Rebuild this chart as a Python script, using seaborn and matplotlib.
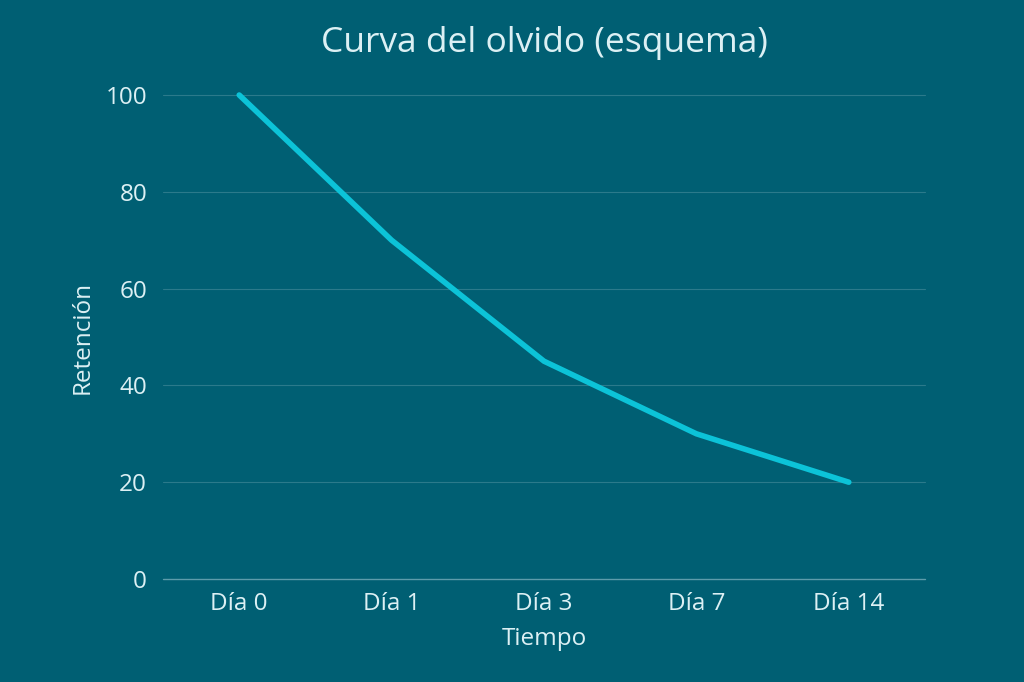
import matplotlib
matplotlib.use("Agg")
import matplotlib.pyplot as plt
import seaborn as sns
import pandas as pd

dias = ["Día 0", "Día 1", "Día 3", "Día 7", "Día 14"]
retencion = [100, 70, 45, 30, 20]
yticks = [0, 20, 40, 60, 80, 100]

BG = "#005f73"
LINE = "#0cc3d8"
TXT = "#dcf0f4"
GRID = "#2b7a8b"
ZERO = "#5d9cab"

sns.set_theme(style="white")
plt.rcParams["font.family"] = ["Open Sans", "DejaVu Sans"]

df = pd.DataFrame({"Tiempo": dias, "Retención": retencion})

fig = plt.figure(figsize=(10.24, 6.82), dpi=100, facecolor=BG)
ax = fig.add_axes([163/1024, 103/682, 762/1024, 484/682])
ax.set_facecolor(BG)

sns.lineplot(data=df, x="Tiempo", y="Retención", sort=False, ax=ax,
             color=LINE, linewidth=4.0, solid_capstyle="round", zorder=3)
for l in ax.lines:
    l.set_clip_on(False)

ax.set_xlim(-0.5, len(dias) - 0.5)
ax.set_ylim(0, 100)
ax.set_yticks(yticks)
ax.set_yticklabels([str(v) for v in yticks])
for v in yticks:
    l = ax.axhline(v, color=ZERO if v == 0 else GRID, linewidth=1.0 if v == 0 else 0.8, zorder=1)
    l.set_clip_on(False)

for s in ax.spines.values():
    s.set_visible(False)
ax.tick_params(axis="both", length=0, colors=TXT, labelsize=17.5)
ax.tick_params(axis="y", pad=11.5)
ax.tick_params(axis="x", pad=9.5)

ax.set_xlabel("Tiempo", color=TXT, fontsize=17.5, labelpad=8)
ax.set_ylabel("Retención", color=TXT, fontsize=17.5, labelpad=8)
fig.text(544/1024, 1 - 43/682, "Curva del olvido (esquema)", color=TXT,
         fontsize=25.5, ha="center", va="center")

fig.savefig("out.png", dpi=100, facecolor=BG)
